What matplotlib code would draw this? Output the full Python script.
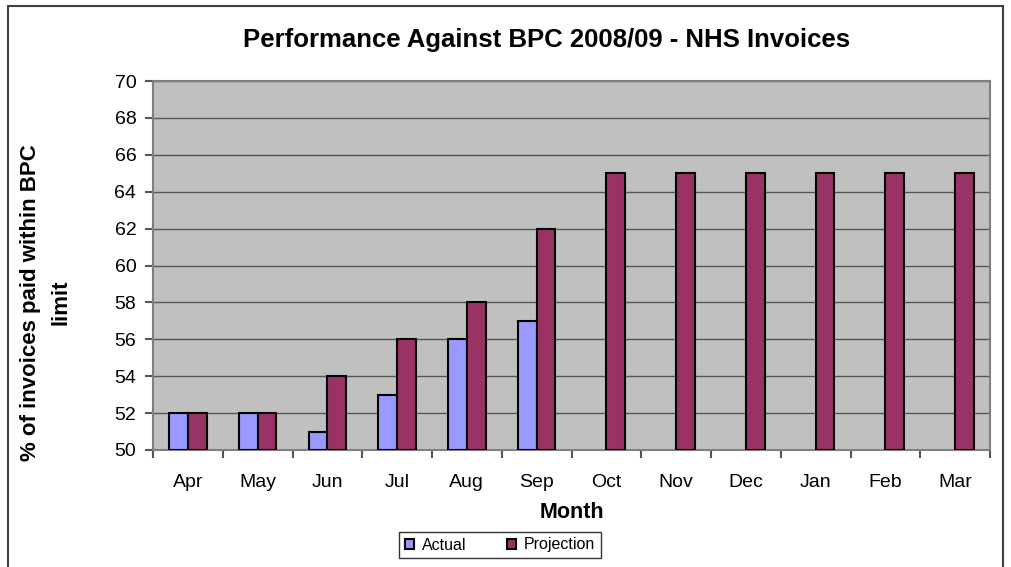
import numpy as np
import matplotlib.pyplot as plt
from matplotlib.patches import Rectangle

months = ['Apr', 'May', 'Jun', 'Jul', 'Aug', 'Sep', 'Oct', 'Nov', 'Dec', 'Jan', 'Feb', 'Mar']
actual = [52, 52, 51, 53, 56, 57, None, None, None, None, None, None]
projection = [52, 52, 54, 56, 58, 62, 65, 65, 65, 65, 65, 65]

plt.rcParams['font.family'] = ['Liberation Sans', 'DejaVu Sans']

fig = plt.figure(figsize=(10.11, 5.67), dpi=100)
ax = fig.add_axes([153 / 1011, 1 - 450 / 567, (990 - 153) / 1011, (450 - 81) / 567])

# outer chart frame
fig.patches.append(Rectangle((8 / 1011, -0.05), (1003 - 8) / 1011, 1.05 - 6 / 567,
                             transform=fig.transFigure, fill=False,
                             edgecolor='#404040', linewidth=1.5))

ind = np.arange(len(months))
width = 0.27

act_x = [i for i, v in zip(ind, actual) if v is not None]
act_v = [v for v in actual if v is not None]
bars_a = ax.bar(np.array(act_x) - width / 2, np.array(act_v) - 50, width, bottom=50,
                color='#9999FF', edgecolor='black', linewidth=1.5, zorder=3)
bars_p = ax.bar(ind + width / 2, np.array(projection) - 50, width, bottom=50,
                color='#993366', edgecolor='black', linewidth=1.5, zorder=3)

ax.set_facecolor('#C0C0C0')
ax.set_xlim(-0.5, 11.5)
ax.set_ylim(50, 70)
ax.set_yticks(range(50, 71, 2))
ax.yaxis.grid(True, color='#555555', linewidth=1)
ax.set_axisbelow(True)

ax.set_xticks(ind)
ax.set_xticklabels(months)
ax.set_xticks(np.arange(-0.5, 12, 1), minor=True)
ax.tick_params(axis='x', which='major', length=0, pad=17, labelsize=14)
ax.tick_params(axis='x', which='minor', length=6, color='#555555', width=1.5)
ax.tick_params(axis='y', length=6, color='#555555', width=1.5, labelsize=14, pad=6)

for s in ax.spines.values():
    s.set_color('#808080')
    s.set_linewidth(1.5)

fig.text(547 / 1011, 1 - 40 / 567, 'Performance Against BPC 2008/09 - NHS Invoices',
         fontsize=18.5, fontweight='bold', ha='center', va='center')
ax.set_xlabel('Month', fontsize=15.5, fontweight='bold', labelpad=8)
ax.set_ylabel('% of invoices paid within BPC\nlimit', fontsize=16, fontweight='bold',
              linespacing=1.6)
ax.yaxis.set_label_coords(-0.097, 0.40)

leg = ax.legend((bars_a[0], bars_p[0]), ('Actual', 'Projection'), ncol=2,
                loc='center', bbox_to_anchor=(500 / 1011, 1 - 545 / 567),
                bbox_transform=fig.transFigure, fontsize=11.5, frameon=True,
                fancybox=False, edgecolor='black', handlelength=0.6, handleheight=0.6,
                columnspacing=2.5, handletextpad=0.5, borderpad=0.35)
leg.get_frame().set_linewidth(1)

fig.savefig('out.png', dpi=100)
